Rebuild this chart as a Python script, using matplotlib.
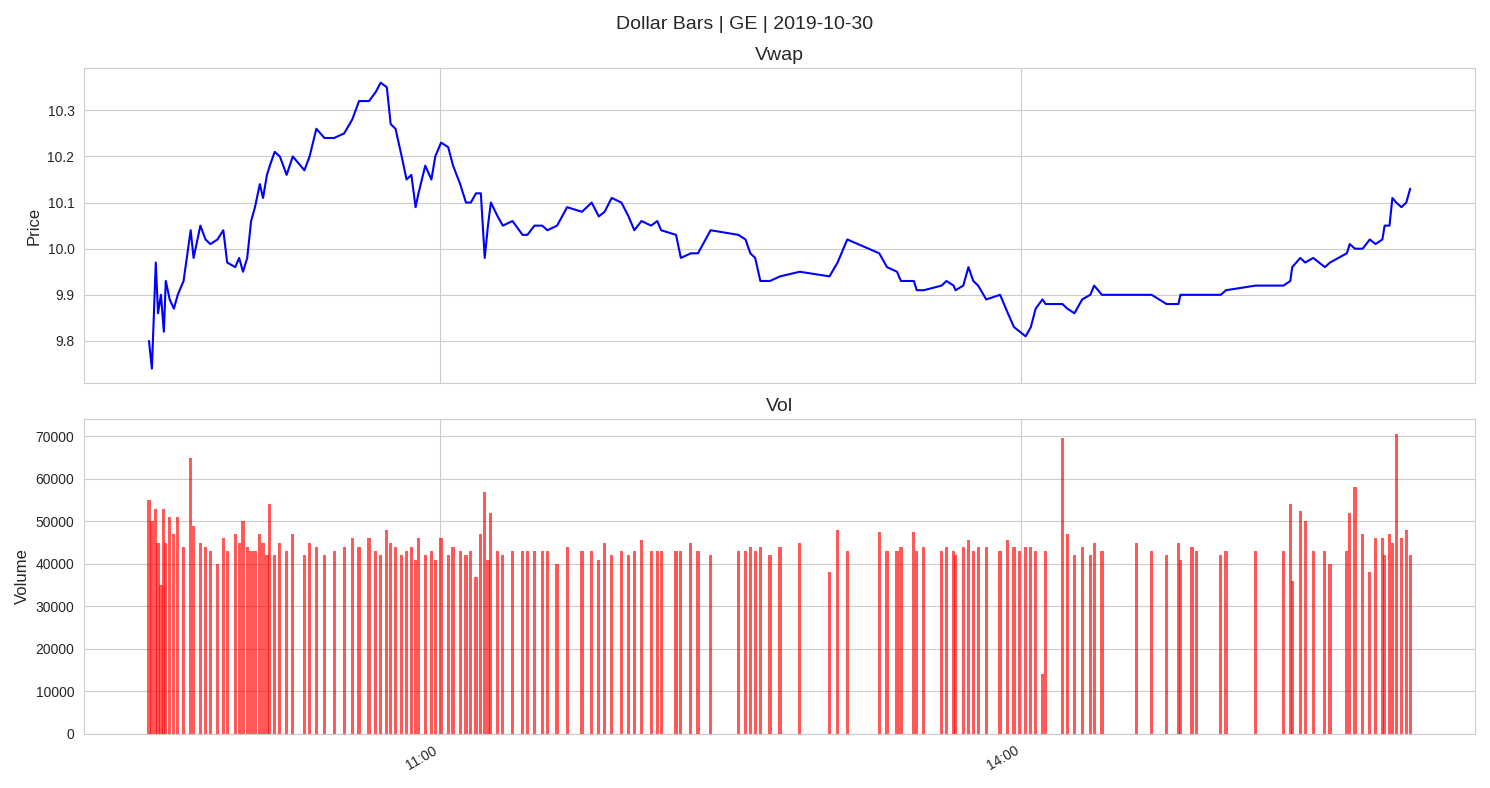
"""Dollar bars for GE on 2019-10-30: vwap line and bar volume."""

import matplotlib
matplotlib.use("Agg")
import matplotlib.dates as mdates
import matplotlib.pyplot as plt
import numpy as np
import pandas as pd
import seaborn as sns

DAY = "2019-10-30"
OPEN = "09:30"

# minutes after the open for each dollar bar
minutes = [
    0, 0.9, 2.1, 2.8, 3.7, 4.6, 5.2, 6.4, 7.7, 8.9,
    10.7, 12.9, 13.8, 15.9, 17.5, 19.0, 21.2, 23.0, 24.2, 26.7,
    27.9, 29.1, 30.4, 31.6, 32.8, 34.3, 35.3, 36.5, 37.4, 38.9,
    40.5, 42.6, 44.5, 48.1, 49.7, 51.8, 54.3, 57.3, 60.4, 62.9,
    65.0, 68.1, 70.2, 71.7, 73.6, 74.8, 76.3, 78.2, 79.7, 81.2,
    82.5, 83.4, 85.5, 87.4, 88.6, 90.4, 92.6, 94.1, 96.3, 98.1,
    99.6, 101.2, 102.7, 103.9, 104.9, 105.8, 107.9, 109.5, 112.5, 115.6,
    117.1, 119.3, 121.7, 123.3, 126.3, 129.4, 134.0, 137.0, 139.2, 141.0,
    143.2, 146.2, 148.4, 150.2, 152.4, 155.4, 157.3, 158.5, 163.1, 164.6,
    167.7, 169.9, 173.8, 182.4, 184.6, 186.1, 187.6, 189.2, 192.2, 195.3,
    201.4, 210.6, 213.1, 216.1, 226.0, 228.4, 231.5, 232.7, 236.7, 237.6,
    239.8, 245.3, 246.8, 249.0, 249.6, 252.0, 253.6, 255.1, 256.6, 259.1,
    263.4, 265.8, 267.7, 269.5, 271.3, 272.9, 274.4, 276.5, 277.5, 282.7,
    284.2, 286.4, 288.8, 291.3, 292.5, 294.9, 305.7, 310.3, 314.9, 318.6,
    319.2, 322.8, 324.1, 331.7, 333.3, 342.5, 351.1, 353.2, 353.8, 356.3,
    357.8, 360.3, 363.9, 365.5, 370.7, 371.6, 373.2, 375.6, 377.8, 379.6,
    381.7, 382.4, 383.9, 384.8, 386.0, 387.6, 389.1, 390.3,
]

vwap = [
    9.80, 9.74, 9.97, 9.86, 9.90, 9.82, 9.93, 9.89, 9.87, 9.90,
    9.93, 10.04, 9.98, 10.05, 10.02, 10.01, 10.02, 10.04, 9.97, 9.96,
    9.98, 9.95, 9.98, 10.06, 10.09, 10.14, 10.11, 10.16, 10.18, 10.21,
    10.20, 10.16, 10.20, 10.17, 10.20, 10.26, 10.24, 10.24, 10.25, 10.28,
    10.32, 10.32, 10.34, 10.36, 10.35, 10.27, 10.26, 10.20, 10.15, 10.16,
    10.09, 10.12, 10.18, 10.15, 10.20, 10.23, 10.22, 10.18, 10.14, 10.10,
    10.10, 10.12, 10.12, 9.98, 10.05, 10.10, 10.07, 10.05, 10.06, 10.03,
    10.03, 10.05, 10.05, 10.04, 10.05, 10.09, 10.08, 10.10, 10.07, 10.08,
    10.11, 10.10, 10.07, 10.04, 10.06, 10.05, 10.06, 10.04, 10.03, 9.98,
    9.99, 9.99, 10.04, 10.03, 10.02, 9.99, 9.98, 9.93, 9.93, 9.94,
    9.95, 9.94, 9.97, 10.02, 9.99, 9.96, 9.95, 9.93, 9.93, 9.91,
    9.91, 9.92, 9.93, 9.92, 9.91, 9.92, 9.96, 9.93, 9.92, 9.89,
    9.90, 9.86, 9.83, 9.82, 9.81, 9.83, 9.87, 9.89, 9.88, 9.88,
    9.87, 9.86, 9.89, 9.90, 9.92, 9.90, 9.90, 9.90, 9.88, 9.88,
    9.90, 9.90, 9.90, 9.90, 9.91, 9.92, 9.92, 9.93, 9.96, 9.98,
    9.97, 9.98, 9.96, 9.97, 9.99, 10.01, 10.00, 10.00, 10.02, 10.01,
    10.02, 10.05, 10.05, 10.11, 10.10, 10.09, 10.10, 10.13,
]

volume = [
    55000, 50000, 53000, 45000, 35000, 53000, 45000, 51000, 47000, 51000,
    44000, 65000, 49000, 45000, 44000, 43000, 40000, 46000, 43000, 47000,
    45000, 50000, 44000, 43000, 43000, 47000, 45000, 42000, 54000, 42000,
    45000, 43000, 47000, 42000, 45000, 44000, 42000, 43000, 44000, 46000,
    44000, 46000, 43000, 42000, 48000, 45000, 44000, 42000, 43000, 44000,
    41000, 46000, 42000, 43000, 41000, 46000, 42000, 44000, 43000, 42000,
    43000, 37000, 47000, 57000, 41000, 52000, 43000, 42000, 43000, 43000,
    43000, 43000, 43000, 43000, 40000, 44000, 43000, 43000, 41000, 45000,
    42000, 43000, 42000, 43000, 45500, 43000, 43000, 43000, 43000, 43000,
    45000, 43000, 42000, 43000, 43000, 44000, 43000, 44000, 42000, 44000,
    45000, 38000, 48000, 43000, 47500, 43000, 43000, 44000, 47500, 43000,
    44000, 43000, 44000, 43000, 42000, 44000, 45500, 43000, 44000, 44000,
    43000, 45500, 44000, 43000, 44000, 44000, 43000, 14000, 43000, 69500,
    47000, 42000, 44000, 42000, 45000, 43000, 45000, 43000, 42000, 45000,
    41000, 44000, 43000, 42000, 43000, 43000, 43000, 54000, 36000, 52500,
    50000, 43000, 43000, 40000, 43000, 52000, 58000, 47000, 38000, 46000,
    46000, 42000, 47000, 45000, 70500, 46000, 48000, 42000,
]


def main() -> None:
    start = pd.Timestamp(f"{DAY} {OPEN}")
    times = start + pd.to_timedelta(np.array(minutes), unit="m")
    x = mdates.date2num(times.to_pydatetime())

    sns.set_style("whitegrid")
    plt.rcParams["font.family"] = ["Arial", "Liberation Sans", "DejaVu Sans"]

    fig, axes = plt.subplots(2, 1, figsize=(14.9, 7.88), dpi=100, sharex=True)
    ax_p, ax_v = axes

    ax_p.plot(x, vwap, color="blue", lw=1.5)
    ax_p.set_title("Vwap", fontsize=14)
    ax_p.set_ylabel("Price", fontsize=12)

    ax_v.bar(x, volume, width=1.0 / 1440, color="red", alpha=0.65, linewidth=0)
    ax_v.set_title("Vol", fontsize=14)
    ax_v.set_ylabel("Volume", fontsize=12)
    ax_v.set_ylim(0, 74000)

    ax_v.xaxis.set_major_locator(mdates.HourLocator(byhour=[11, 14]))
    ax_v.xaxis.set_major_formatter(mdates.DateFormatter("%H:%M"))
    for ax in axes:
        ax.xaxis_date()
    fig.autofmt_xdate()

    fig.suptitle("Dollar Bars | GE | 2019-10-30", fontsize=14)
    fig.tight_layout()
    fig.savefig("out.png", dpi=100)
    plt.close(fig)


if __name__ == "__main__":
    main()
